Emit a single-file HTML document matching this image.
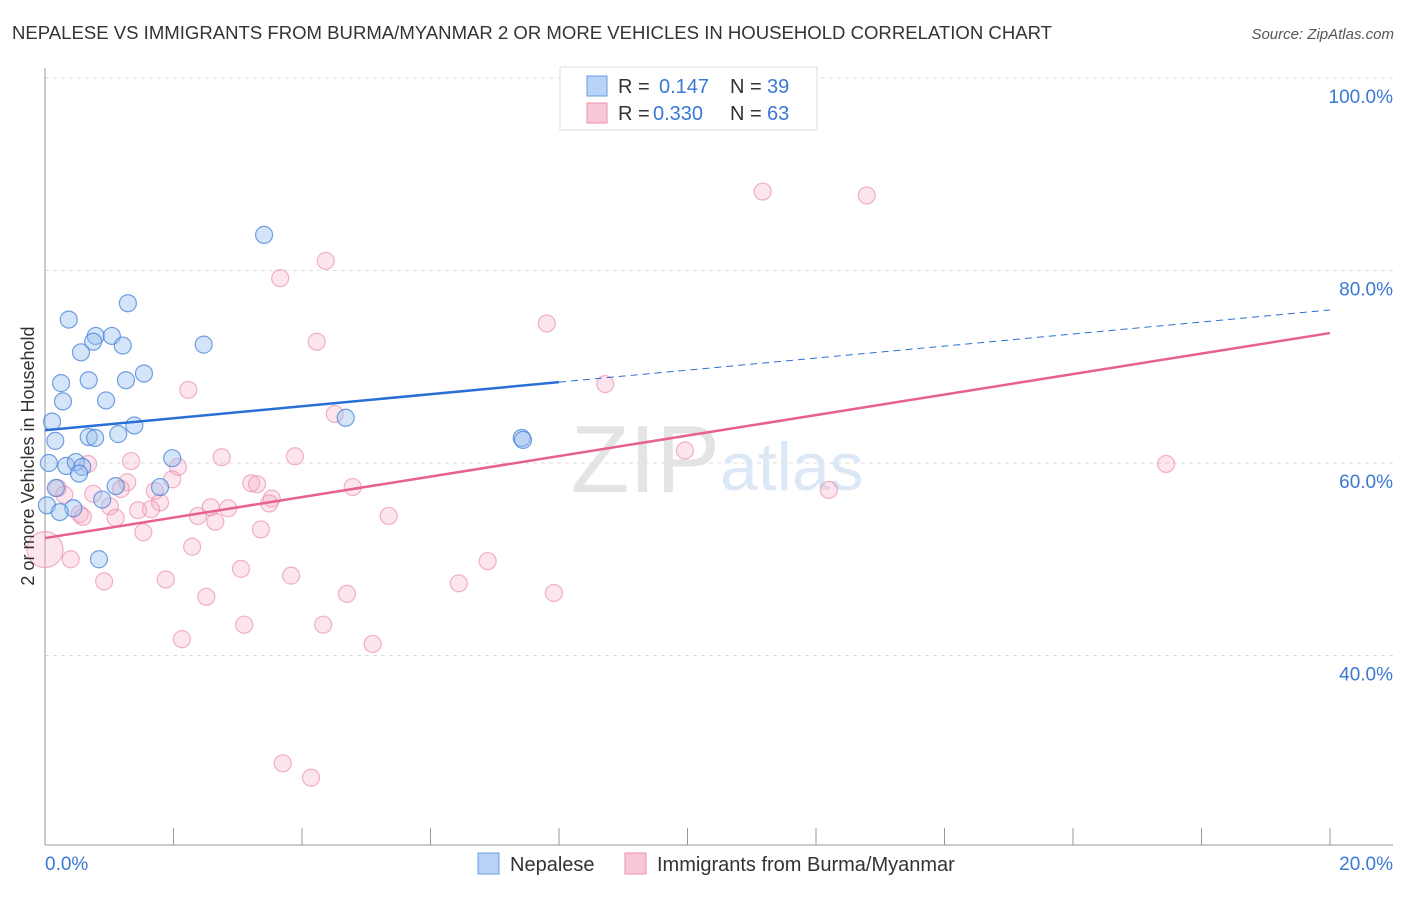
<!DOCTYPE html>
<html><head><meta charset="utf-8">
<style>
body{margin:0;background:#fff;font-family:"Liberation Sans",sans-serif;}
svg text{font-family:"Liberation Sans",sans-serif;}
</style></head>
<body>
<svg id="chart" width="1406" height="892" viewBox="0 0 1406 892">
<text x="12" y="39" font-size="18" fill="#333" textLength="1040" lengthAdjust="spacingAndGlyphs">NEPALESE VS IMMIGRANTS FROM BURMA/MYANMAR 2 OR MORE VEHICLES IN HOUSEHOLD CORRELATION CHART</text>
<text x="1394" y="39" font-size="15" fill="#555" font-style="italic" text-anchor="end">Source: ZipAtlas.com</text>
<g id="grid"></g>
<text x="720" y="492" font-size="96" fill="#e4e4e4" font-family="Liberation Serif" text-anchor="end">ZIP</text>
<text x="720" y="490" font-size="68" fill="#dce8f6">atlas</text>
<g id="marks"></g>
<text transform="translate(34,456) rotate(-90)" font-size="18" fill="#333" text-anchor="middle">2 or more Vehicles in Household</text>
<g>
<rect x="560" y="67" width="257" height="63" fill="#fff" stroke="#ddd"/>
<rect x="587" y="76" width="20" height="20" fill="#b8d3f5" stroke="#6a9de0"/>
<rect x="587" y="103" width="20" height="20" fill="#f9c8d8" stroke="#ea8fae"/>
<text x="618" y="93" font-size="20" fill="#333">R =</text>
<text x="659" y="93" font-size="20" fill="#3a78d4">0.147</text>
<text x="730" y="93" font-size="20" fill="#333">N =</text>
<text x="767" y="93" font-size="20" fill="#3a78d4">39</text>
<text x="618" y="120" font-size="20" fill="#333">R =</text>
<text x="653" y="120" font-size="20" fill="#3a78d4">0.330</text>
<text x="730" y="120" font-size="20" fill="#333">N =</text>
<text x="767" y="120" font-size="20" fill="#3a78d4">63</text>
</g>
<g>
<rect x="478" y="853" width="21" height="21" fill="#b8d3f5" stroke="#6a9de0"/>
<text x="510" y="871" font-size="20" fill="#333">Nepalese</text>
<rect x="625" y="853" width="21" height="21" fill="#f9c8d8" stroke="#ea8fae"/>
<text x="657" y="871" font-size="20" fill="#333">Immigrants from Burma/Myanmar</text>
</g>
</svg>
<script>
const yTicks=[40,60,80,100];
const xTickVals=[0,2,4,6,8,10,12,14,16,18,20];
const blueX=[3.41,0.37,1.29,0.79,1.04,0.75,1.21,0.56,2.47,0.25,0.68,1.26,1.54,0.28,0.95,0.11,1.39,4.68,0.16,0.68,0.78,1.14,7.42,7.44,0.06,0.33,0.48,0.58,0.53,1.98,0.17,1.10,1.79,0.89,0.03,0.44,0.23,0.84];
const blueY=[83.7,74.9,76.6,73.2,73.2,72.6,72.2,71.5,72.3,68.3,68.6,68.6,69.3,66.4,66.5,64.3,63.9,64.7,62.3,62.7,62.6,63.0,62.6,62.4,60.0,59.7,60.1,59.6,58.9,60.5,57.4,57.6,57.5,56.2,55.6,55.3,54.9,50.0];
const pinkX=[11.17,12.79,4.37,3.66,7.81,4.23,8.72,2.23,4.51,9.96,17.45,2.75,1.34,3.89,2.07,0.67,1.98,3.21,3.30,1.28,1.18,1.71,0.75,0.20,0.30,12.20,4.79,3.53,3.49,1.01,1.79,2.58,2.85,1.45,1.65,0.54,0.59,2.38,2.65,5.35,1.10,3.36,1.53,0,2.29,0.40,6.89,3.05,3.83,1.88,0.92,6.44,4.70,7.92,2.51,3.10,4.33,2.13,5.10,3.70,4.14];
const pinkY=[88.2,87.8,81.0,79.2,74.5,72.6,68.2,67.6,65.1,61.3,59.9,60.6,60.2,60.7,59.6,59.9,58.3,57.9,57.8,58.0,57.3,57.1,56.8,57.4,56.7,57.2,57.5,56.3,55.8,55.5,55.9,55.4,55.3,55.1,55.2,54.7,54.4,54.5,53.9,54.5,54.3,53.1,52.8,51.0,51.3,50.0,49.8,49.0,48.3,47.9,47.7,47.5,46.4,46.5,46.1,43.2,43.2,41.7,41.2,28.8,27.3];
const blueTrend=[63.4,75.9];
const pinkTrend=[52.2,73.5];
const NS='http://www.w3.org/2000/svg';
const X=v=>45+v/20*1285;
const Y=v=>78+(100-v)*9.625;
function mk(tag,attrs,parent){const e=document.createElementNS(NS,tag);for(const k in attrs)e.setAttribute(k,attrs[k]);parent.appendChild(e);return e;}
const grid=document.getElementById('grid'),marks=document.getElementById('marks');
yTicks.forEach(t=>{
 const l=mk('line',{x1:45,x2:1393,y1:Y(t),y2:Y(t),stroke:'#ddd','stroke-dasharray':'4,4'},grid);
 
 
 const tx=mk('text',{x:1393,y:Y(t)+25,'font-size':19,fill:'#3a78d4','text-anchor':'end'},grid);
 tx.textContent=t.toFixed(1)+'%';
 
 
});
const ax=mk('line',{x1:45,x2:45,y1:68,y2:845,stroke:'#999'},grid);


const bx=mk('line',{x1:45,x2:1393,y1:845,y2:845,stroke:'#999'},grid);


xTickVals.forEach(t=>{
 const l=mk('line',{x1:X(t),x2:X(t),y1:828,y2:845,stroke:'#999'},grid);
 
 
});
[[0,'start'],[20,'end']].forEach(([t,a])=>{
 const tx=mk('text',{x:t==0?45:1393,y:870,'font-size':19,fill:'#3a78d4','text-anchor':a},grid);
 tx.textContent=t.toFixed(1)+'%';
 
 
});
pinkX.forEach((x,i)=>{
 const c=mk('circle',{cx:X(x),cy:Y(pinkY[i]),r:x===0?18:8.5,fill:'rgba(246,170,195,0.3)',stroke:'rgba(232,130,165,0.6)','stroke-width':1.2},marks);
 
 
});
blueX.forEach((x,i)=>{
 const c=mk('circle',{cx:X(x),cy:Y(blueY[i]),r:8.5,fill:'rgba(150,190,240,0.4)',stroke:'rgba(70,130,215,0.75)','stroke-width':1.2},marks);
 
 
});
const b8=blueTrend[0]+(blueTrend[1]-blueTrend[0])*0.4;
const bl=mk('line',{x1:X(0),y1:Y(blueTrend[0]),x2:X(8),y2:Y(b8),stroke:'#2a6fd6','stroke-width':2.5},marks);


const bd=mk('line',{x1:X(8),y1:Y(b8),x2:X(20),y2:Y(blueTrend[1]),stroke:'#2a6fd6','stroke-width':1,'stroke-dasharray':'7,5'},marks);


const pl=mk('line',{x1:X(0),y1:Y(pinkTrend[0]),x2:X(20),y2:Y(pinkTrend[1]),stroke:'#e8608e','stroke-width':2.5},marks);


</script>
</body></html>
